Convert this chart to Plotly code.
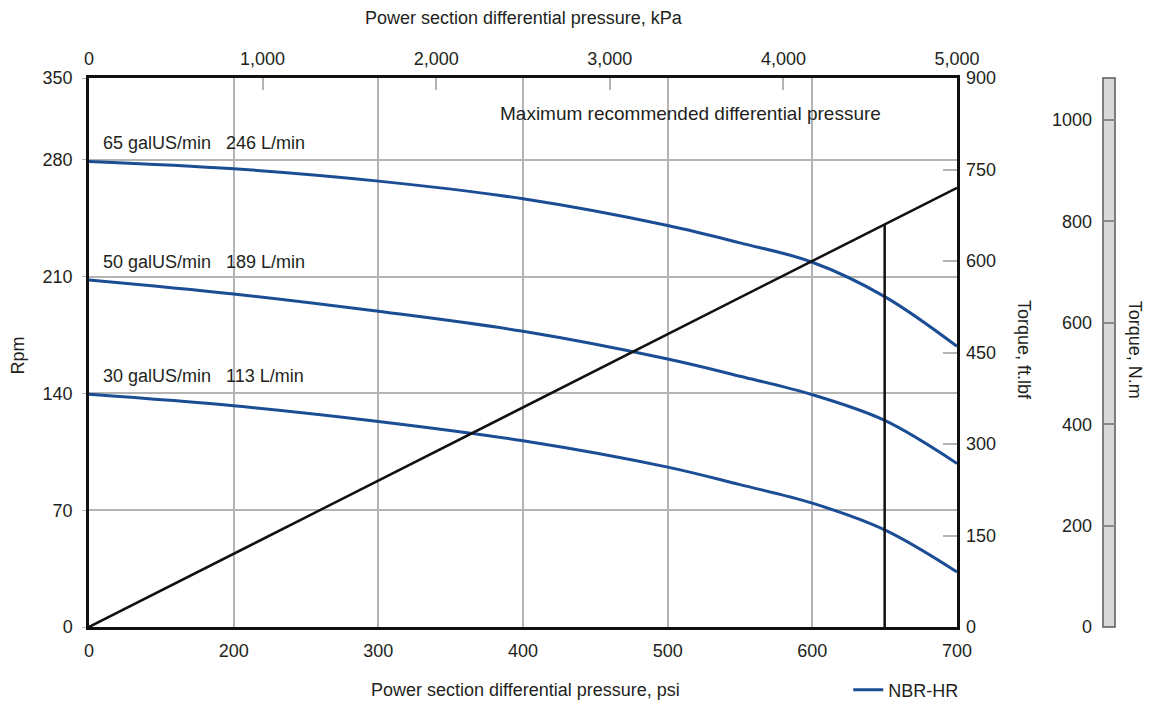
import numpy as np
import plotly.graph_objects as go

# ---- axis labels -------------------------------------------------------
# Bottom pressure axis: labels sit evenly along the axis (0 then 200..700)
psi_ticks = [0, 200, 300, 400, 500, 600, 700]
# Left speed axis labels (last step to 350 is shorter than the others)
rpm_ticks = [0, 70, 140, 210, 280, 350]
rpm_step_pos = [0, 1, 2, 3, 4, 4.70]
# Right torque axes
torque_ftlbf_ticks = [0, 150, 300, 450, 600, 750, 900]
torque_nm_ticks = [0, 200, 400, 600, 800, 1000]
torque_nm_top = 1083
# Top pressure axis
kpa_ticks = [0, 1000, 2000, 3000, 4000, 5000]

# ---- speed curves (rpm vs differential pressure, psi) --------------------
curve_psi = [0, 200, 300, 400, 500, 550, 600, 650, 700]
rpm_65gpm = [279.0, 274.6, 267.2, 256.6, 240.6, 230.2, 218.6, 198.0, 168.2]
rpm_50gpm = [208.0, 199.6, 189.2, 177.2, 160.6, 150.3, 139.2, 123.8, 98.0]
rpm_30gpm = [139.5, 132.6, 123.2, 111.6, 95.8, 85.3, 74.2, 58.2, 33.0]
flow_labels = ["65 galUS/min\u00a0\u00a0\u00a0246 L/min",
               "50 galUS/min\u00a0\u00a0\u00a0189 L/min",
               "30 galUS/min\u00a0\u00a0\u00a0113 L/min"]

# ---- torque line ---------------------------------------------------------
torque_psi = [0, 700]
torque_ftlbf = [0, 720]
max_recommended_psi = 650

FONT = "Liberation Sans, Arial, sans-serif"
TEXT = "#231f20"
BLUE = "#1b4d94"
GRID = "#b4b4b4"


def psi_axis(p):
    return np.interp(p, psi_ticks, np.arange(len(psi_ticks)))


def rpm_axis(r):
    return np.interp(r, rpm_ticks, rpm_step_pos)


fig = go.Figure()

for i, (rpm, lbl) in enumerate(zip([rpm_65gpm, rpm_50gpm, rpm_30gpm], flow_labels)):
    fig.add_trace(go.Scatter(
        x=psi_axis(curve_psi), y=rpm_axis(rpm), mode="lines",
        line=dict(color=BLUE, width=3, shape="spline", smoothing=1.0),
        name="NBR-HR", legendgroup="nbr", showlegend=(i == 0),
        xaxis="x", yaxis="y"))
    fig.add_annotation(x=psi_axis(0), y=rpm_axis(rpm[0]), xref="x", yref="y",
                       text=lbl, showarrow=False, xanchor="left", yanchor="middle",
                       xshift=12, yshift=18,
                       font=dict(family=FONT, size=18, color=TEXT))

# torque vs pressure (ft.lbf axis)
t_x = psi_axis(torque_psi)
fig.add_trace(go.Scatter(x=t_x, y=torque_ftlbf, mode="lines",
                         line=dict(color="#111111", width=2.5),
                         showlegend=False, xaxis="x", yaxis="y2"))

# maximum recommended differential pressure marker
mx = float(psi_axis(max_recommended_psi))
m_top = float(np.interp(mx, t_x, torque_ftlbf))
fig.add_trace(go.Scatter(x=[mx, mx], y=[0, m_top], mode="lines",
                         line=dict(color="#111111", width=2.5),
                         showlegend=False, xaxis="x", yaxis="y2"))
fig.add_annotation(x=mx, y=0.936, xref="x", yref="y domain",
                   text="Maximum recommended differential pressure",
                   showarrow=False, xanchor="right", yanchor="middle", xshift=-2,
                   font=dict(family=FONT, size=19, color=TEXT))

# kPa axis carrier (no visible marks)
fig.add_trace(go.Scatter(x=[0], y=[0], mode="markers", marker=dict(opacity=0),
                         hoverinfo="skip", showlegend=False, xaxis="x3", yaxis="y"))

# N.m scale bar subplot
fig.add_trace(go.Scatter(x=[0], y=[0], mode="markers", marker=dict(opacity=0),
                         hoverinfo="skip", showlegend=False, xaxis="x2", yaxis="y3"))
fig.add_shape(type="rect", xref="x2 domain", yref="y3 domain",
              x0=0, x1=1, y0=0, y1=1, layer="below",
              fillcolor="#d9d9d9", line=dict(color="#5a5a5a", width=1.5))

tick_font = dict(family=FONT, size=18, color=TEXT)
main_dom = [0, 868 / 1026]

fig.update_layout(
    width=1149, height=704,
    margin=dict(l=89, r=34, t=78, b=77, autoexpand=False),
    paper_bgcolor="white", plot_bgcolor="white",
    font=dict(family=FONT, color=TEXT),
    xaxis=dict(domain=main_dom, range=[0, 6], tickvals=list(range(7)),
               ticktext=[str(v) for v in psi_ticks], tickfont=tick_font,
               showgrid=True, gridcolor=GRID, gridwidth=1.5, zeroline=False,
               showline=True, linecolor="#111111", linewidth=2.5, mirror=True,
               ticks="", ticklabelstandoff=6),
    yaxis=dict(range=[0, rpm_step_pos[-1]], tickvals=rpm_axis(rpm_ticks),
               ticktext=[str(v) for v in rpm_ticks], tickfont=tick_font,
               showgrid=True, gridcolor=GRID, gridwidth=1.5, zeroline=False,
               showline=True, linecolor="#111111", linewidth=2.5, mirror=True,
               ticks="outside", ticklen=4, tickcolor=GRID, ticklabelstandoff=6),
    yaxis2=dict(overlaying="y", side="right", anchor="x", range=[0, 900],
                tickvals=torque_ftlbf_ticks, tickfont=tick_font,
                showgrid=False, zeroline=False, showline=False,
                ticks="inside", ticklen=14, tickcolor=GRID, tickwidth=1.5,
                ticklabelstandoff=8),
    xaxis3=dict(overlaying="x", side="top", anchor="y", range=[0, 5000],
                tickvals=kpa_ticks, ticktext=[f"{v:,}" for v in kpa_ticks],
                tickfont=tick_font, showgrid=False, zeroline=False,
                ticks="inside", ticklen=12, tickcolor=GRID, tickwidth=1.5,
                ticklabelstandoff=8),
    xaxis2=dict(domain=[1014 / 1026, 1], range=[0, 1], visible=False),
    yaxis3=dict(anchor="x2", range=[0, torque_nm_top], tickvals=torque_nm_ticks,
                tickfont=tick_font, showgrid=True, gridcolor="#8a8a8a",
                gridwidth=1.5, zeroline=False, showline=False, ticks="",
                ticklabelstandoff=10),
    legend=dict(xref="paper", yref="paper", x=0.740, y=-0.115,
                xanchor="left", yanchor="middle",
                font=dict(family=FONT, size=18, color=TEXT),
                bgcolor="rgba(0,0,0,0)", itemwidth=30),
    showlegend=True,
)

title_font = dict(family=FONT, size=18, color=TEXT)
fig.add_annotation(x=0.424, y=1.109, xref="paper", yref="paper", showarrow=False,
                   text="Power section differential pressure, kPa", font=title_font,
                   xanchor="center", yanchor="middle")
fig.add_annotation(x=0.425, y=-0.115, xref="paper", yref="paper", showarrow=False,
                   text="Power section differential pressure, psi", font=title_font,
                   xanchor="center", yanchor="middle")
fig.add_annotation(x=-0.069, y=0.495, xref="paper", yref="paper", showarrow=False,
                   text="Rpm", font=title_font, textangle=-90,
                   xanchor="center", yanchor="middle")
fig.add_annotation(x=0.912, y=0.505, xref="paper", yref="paper", showarrow=False,
                   text="Torque, ft.lbf", font=title_font, textangle=90,
                   xanchor="center", yanchor="middle")
fig.add_annotation(x=1.0195, y=0.505, xref="paper", yref="paper", showarrow=False,
                   text="Torque, N.m", font=title_font, textangle=90,
                   xanchor="center", yanchor="middle")

fig.write_html("out.html")
